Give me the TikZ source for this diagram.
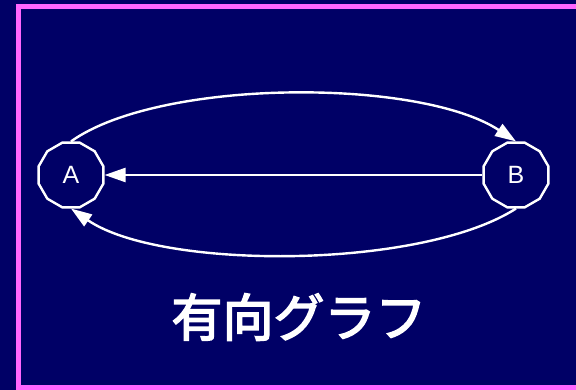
\documentclass[tikz,border=0pt]{standalone}
\usepackage{fontspec}
\setmainfont{Liberation Sans}
\newfontfamily\cjkfont{Noto Sans CJK JP}[FakeBold=3]
\usetikzlibrary{shapes.geometric,arrows.meta}
\definecolor{bgnavy}{RGB}{0,0,102}
\definecolor{framepink}{RGB}{255,102,255}
\tikzset{
  vertex/.style={draw=white, line width=2.4pt, regular polygon, regular polygon sides=12,
    minimum size=67pt, inner sep=0pt, text=white, font=\fontsize{25}{28}\selectfont},
  edge/.style={draw=white, line width=2.4pt, -{Triangle[length=21pt,width=14pt]}},
  title/.style={text=white, font=\cjkfont\fontsize{51}{54}\selectfont, inner sep=0pt}
}
\begin{document}
\begin{tikzpicture}[x=1pt,y=-1pt]
\useasboundingbox (0,0) rectangle (576,390);
\clip (0,0) rectangle (576,390);
\fill[bgnavy] (0,0) rectangle (576,390);
\draw[framepink, line width=5pt] (18.5,6.5) rectangle (600,387.5);
\node[vertex] (A) at (71,175) {A};
\node[vertex] (B) at (516,175) {B};
\draw[edge] (A.north) .. controls (160,78) and (420,78) .. (B.north);
\draw[edge] (B.west) -- (A.east);
\draw[edge] (B.south) .. controls (420,270) and (160,270) .. (A.south);
\node[title] (T) at (299,317) {有向グラフ};
\end{tikzpicture}
\end{document}
